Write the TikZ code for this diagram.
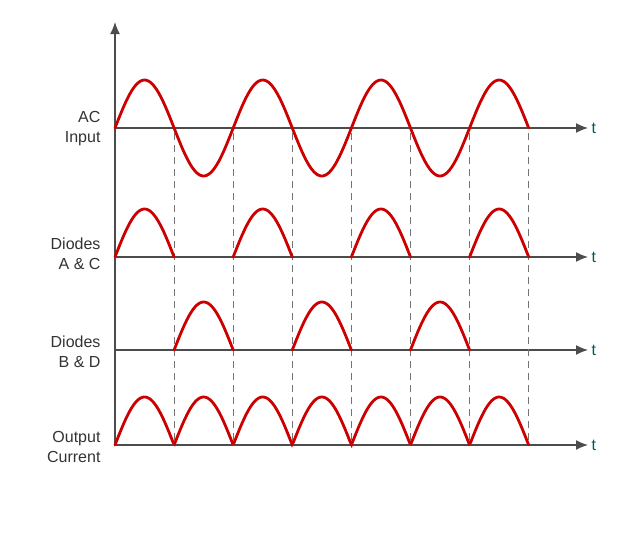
\documentclass[tikz,border=0pt]{standalone}
\usepackage{fontspec}
\setmainfont{Liberation Sans}
\usetikzlibrary{arrows.meta}
\begin{document}
\begin{tikzpicture}[x=1pt,y=-1pt,
  ax/.style={draw=black!70,line width=1.4pt,-{Latex[length=12pt,width=10pt]}},
  wave/.style={draw=red!80!black,line width=2.8pt,line cap=round},
  guide/.style={draw=black!55,line width=1pt,dash pattern=on 7pt off 5pt},
  lbl/.style={align=right,anchor=east,text=black!80,font=\fontsize{16}{20}\selectfont},
  tl/.style={anchor=west,text=teal!70!black,font=\fontsize{16}{20}\selectfont}]
\useasboundingbox (0,0) rectangle (622,538);
\def\P{59.1}
\def\A{48}
% axes
\coordinate (o) at (115,445);
\coordinate (top) at (115,22);
\draw[ax] (o) -- (top);
\foreach \n/\y in {a/128,b/257,c/350,d/445}{
  \coordinate (\n0) at (115,\y);
  \coordinate (\n1) at (588,\y);
  \draw[ax] (\n0) -- (\n1);
  \node[tl] (t\n) at (\n1) {t};
}
% dashed lines
\foreach \k in {1,...,7}{
  \coordinate (dt\k) at ({115+\k*\P},133);
  \coordinate (db\k) at ({115+\k*\P},445);
  \draw[guide] (dt\k) -- (db\k);
}
% AC input
\draw[wave] plot[domain=0:7,samples=200] ({115+\x*\P},{128-\A*sin(\x*180)});
% diodes A & C
\foreach \k in {0,2,4,6}
  \draw[wave] plot[domain=\k:\k+1,samples=40] ({115+\x*\P},{257-\A*sin((\x-\k)*180)});
% diodes B & D
\foreach \k in {1,3,5}
  \draw[wave] plot[domain=\k:\k+1,samples=40] ({115+\x*\P},{350-\A*sin((\x-\k)*180)});
% output
\draw[wave] plot[domain=0:7,samples=300] ({115+\x*\P},{445-\A*abs(sin(\x*180))});
% labels
\node[lbl] (la) at (104,129) {AC\\Input};
\node[lbl] (lb) at (104,254) {Diodes\\A \& C};
\node[lbl] (lc) at (104,352) {Diodes\\B \& D};
\node[lbl] (ld) at (104,447) {Output\\Current};
\end{tikzpicture}
\end{document}
